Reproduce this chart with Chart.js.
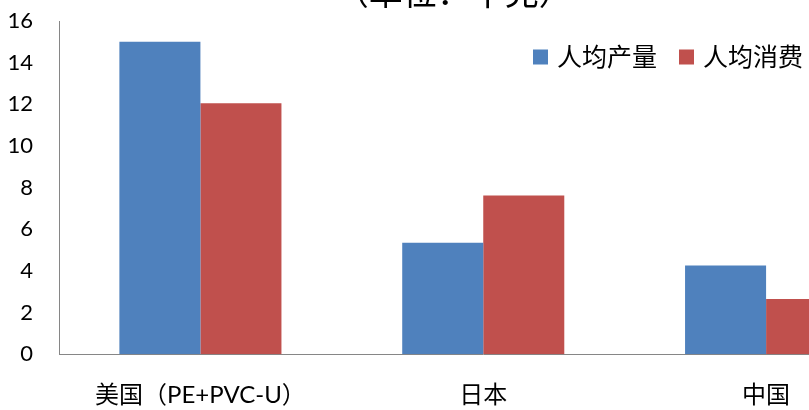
<!DOCTYPE html>
<html>
<head>
<meta charset="utf-8">
<script src="https://cdn.jsdelivr.net/npm/chart.js@4"></script>
<style>
    html, body { margin: 0; padding: 0; background: #fff; }
    #frame { position: relative; width: 809px; height: 410px; overflow: hidden; }
    #perCapitaChart { position: absolute; left: 0; top: -30px; }
</style>
</head>
<body>
<div id="frame">
    <canvas id="perCapitaChart" width="916" height="445"></canvas>
</div>
<script>
// Catégories et séries (kg par habitant)
const categories = ['美国（PE+PVC-U）', '日本', '中国'];
const seriesNames = ['人均产量', '人均消费'];
const perCapitaOutput = [15.0, 5.35, 4.26];
const perCapitaConsumption = [12.05, 7.62, 2.65];
const chartTitle = '（单位：千克）';

const cjkFont = "Lato, 'Noto Sans CJK SC', sans-serif";

// Légende dessinée par-dessus la zone du graphique (comme dans Excel)
const overlayLegend = {
    id: 'overlayLegend',
    afterDraw(chart, args, opts) {
        const ctx = chart.ctx;
        ctx.save();
        ctx.font = opts.fontSize + 'px ' + cjkFont;
        ctx.textBaseline = 'middle';
        ctx.textAlign = 'left';
        let x = opts.x;
        chart.data.datasets.forEach(ds => {
            ctx.fillStyle = ds.backgroundColor;
            ctx.fillRect(x, opts.y - opts.box / 2, opts.box, opts.box);
            x += opts.box + opts.gap;
            ctx.fillStyle = '#000';
            ctx.fillText(ds.label, x, opts.y + 1);
            x += ctx.measureText(ds.label).width + opts.itemGap;
        });
        ctx.restore();
    }
};

new Chart(document.getElementById('perCapitaChart'), {
    type: 'bar',
    data: {
        labels: categories,
        datasets: [{
            label: seriesNames[0],
            data: perCapitaOutput,
            backgroundColor: '#4F81BD',
            barPercentage: 1,
            categoryPercentage: 0.573
        }, {
            label: seriesNames[1],
            data: perCapitaConsumption,
            backgroundColor: '#C0504D',
            barPercentage: 1,
            categoryPercentage: 0.573
        }]
    },
    options: {
        responsive: false,
        animation: false,
        devicePixelRatio: 1,
        layout: { padding: { left: 0, right: 8.5, top: 0, bottom: 0 } },
        plugins: {
            legend: { display: false },
            tooltip: { enabled: false },
            title: {
                display: true,
                text: chartTitle,
                color: '#000',
                font: { family: cjkFont, size: 34, weight: 'normal', lineHeight: 1.2 },
                padding: { top: 3.6, bottom: 6.6 }
            },
            overlayLegend: { x: 533, y: 87, box: 15, gap: 9, itemGap: 22, fontSize: 25 }
        },
        scales: {
            x: {
                grid: { display: false, drawTicks: false },
                border: { display: true, color: '#868686', width: 1 },
                ticks: {
                    color: '#000',
                    padding: 27,
                    maxRotation: 0,
                    font: { family: cjkFont, size: 24 }
                },
                afterFit: scale => { scale.height = 60.7; }
            },
            y: {
                min: 0,
                max: 16,
                grid: { display: false, drawTicks: false },
                border: { display: true, color: '#868686', width: 1 },
                ticks: {
                    stepSize: 2,
                    color: '#000',
                    padding: 26,
                    font: { family: 'Lato', size: 22 }
                },
                afterFit: scale => { scale.width = 59; }
            }
        }
    },
    plugins: [overlayLegend]
});
</script>
</body>
</html>
